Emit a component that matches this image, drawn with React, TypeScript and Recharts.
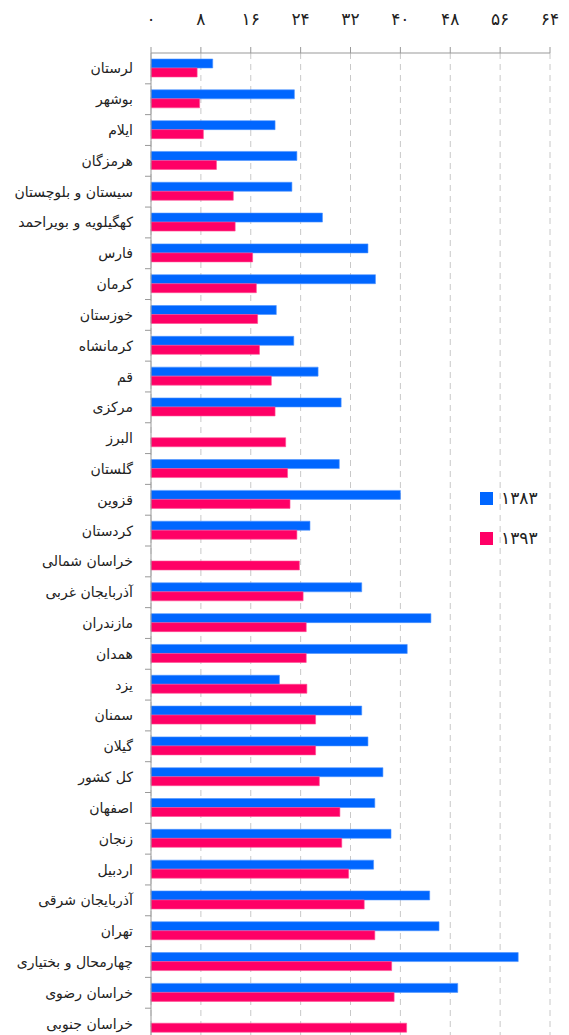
import React from 'react';
import { BarChart, Bar, XAxis, YAxis, CartesianGrid, Legend } from 'recharts';

const categories = [
  'لرستان', 'بوشهر', 'ایلام', 'هرمزگان', 'سیستان و بلوچستان', 'کهگیلویه و بویراحمد',
  'فارس', 'کرمان', 'خوزستان', 'کرمانشاه', 'قم', 'مرکزی', 'البرز', 'گلستان', 'قزوین',
  'کردستان', 'خراسان شمالی', 'آذربایجان غربی', 'مازندران', 'همدان', 'یزد', 'سمنان',
  'گیلان', 'کل کشور', 'اصفهان', 'زنجان', 'اردبیل', 'آذربایجان شرقی', 'تهران',
  'چهارمحال و بختیاری', 'خراسان رضوی', 'خراسان جنوبی',
];

const values1383: (number | null)[] = [
  9.9, 23.0, 19.9, 23.4, 22.6, 27.5, 34.8, 36.0, 20.1, 22.9, 26.8, 30.5, null, 30.2, 40.0,
  25.5, null, 33.8, 44.9, 41.1, 20.6, 33.8, 34.8, 37.2, 35.9, 38.5, 35.7, 44.7, 46.2,
  58.9, 49.2, null,
];

const values1393: number[] = [
  7.4, 7.8, 8.4, 10.5, 13.2, 13.5, 16.3, 16.9, 17.1, 17.4, 19.3, 19.9, 21.6, 21.9, 22.3,
  23.4, 23.8, 24.4, 24.9, 24.9, 25.0, 26.4, 26.4, 27.0, 30.3, 30.6, 31.7, 34.2, 35.9,
  38.6, 39.0, 41.0,
];

const seriesNames = ['۱۳۸۳', '۱۳۹۳'];
const xTicks = [0, 8, 16, 24, 32, 40, 48, 56, 64];

const data = categories.map((name, i) => ({
  name,
  v1383: values1383[i],
  v1393: values1393[i],
}));

const toFa = (n: number | string) =>
  String(n).replace(/\d/g, (d) => '۰۱۲۳۴۵۶۷۸۹'[Number(d)]);

const BLUE = '#0066ff';
const PINK = '#ff0066';
const AXIS = '#999999';
const FONT = '"DejaVu Sans", sans-serif';

const CHART_H = 1045;
const MARGIN_TOP = 0;
const MARGIN_BOTTOM = 6;
const X_AXIS_H = 53;
const BAND = (CHART_H - MARGIN_TOP - MARGIN_BOTTOM - X_AXIS_H) / categories.length;

const XTick = (props: any) => {
  const { x, payload } = props;
  return (
    <text x={x} y={19} textAnchor="middle" dominantBaseline="central" fontSize={17} fill="#222" fontFamily={FONT}>
      {toFa(payload.value)}
    </text>
  );
};

const YTick = (props: any) => {
  const { y, payload } = props;
  return (
    <g>
      <text x={133} y={y} textAnchor="end" dominantBaseline="central" fontSize={14} fill="#222" fontFamily={FONT}>
        {payload.value}
      </text>
      <line x1={145} x2={151} y1={y + BAND / 2} y2={y + BAND / 2} stroke={AXIS} strokeWidth={1} />
    </g>
  );
};

const LegendContent = (props: any) => {
  const { payload } = props;
  return (
    <div style={{ fontFamily: FONT }}>
      {(payload || []).map((p: any, i: number) => (
        <div key={i} style={{ display: 'flex', alignItems: 'center', height: 40 }}>
          <div style={{ width: 13, height: 13, background: p.color, marginRight: 8 }} />
          <span style={{ fontSize: 17, color: '#222' }}>{p.value}</span>
        </div>
      ))}
    </div>
  );
};

export default function App() {
  return (
    <div style={{ position: 'relative', width: 569, height: CHART_H }}>
      <style>{'body{margin:0;overflow:hidden;}'}</style>
      <BarChart
        width={569}
        height={CHART_H}
        data={data}
        layout="vertical"
        margin={{ top: MARGIN_TOP, right: 19, bottom: MARGIN_BOTTOM, left: 0 }}
        barGap={0}
        barSize={9}
      >
        <CartesianGrid horizontal={false} vertical stroke="#c8c8c8" strokeDasharray="6 5" />
        <XAxis
          type="number"
          orientation="top"
          domain={[0, 64]}
          ticks={xTicks}
          height={X_AXIS_H}
          tickSize={6}
          axisLine={{ stroke: AXIS }}
          tickLine={{ stroke: AXIS }}
          tick={<XTick />}
          interval={0}
        />
        <YAxis
          type="category"
          dataKey="name"
          width={151}
          tickLine={false}
          axisLine={{ stroke: AXIS }}
          tick={<YTick />}
          interval={0}
        />
        <Legend
          layout="vertical"
          align="center"
          verticalAlign="middle"
          content={<LegendContent />}
          wrapperStyle={{ position: 'absolute', left: 480, top: 478, width: 80, right: 'auto', bottom: 'auto' }}
        />
        <Bar dataKey="v1383" name={seriesNames[0]} fill={BLUE} stroke="#4d94ff" strokeWidth={0.6} isAnimationActive={false} />
        <Bar dataKey="v1393" name={seriesNames[1]} fill={PINK} stroke="#ff4d94" strokeWidth={0.6} isAnimationActive={false} />
      </BarChart>
    </div>
  );
}
